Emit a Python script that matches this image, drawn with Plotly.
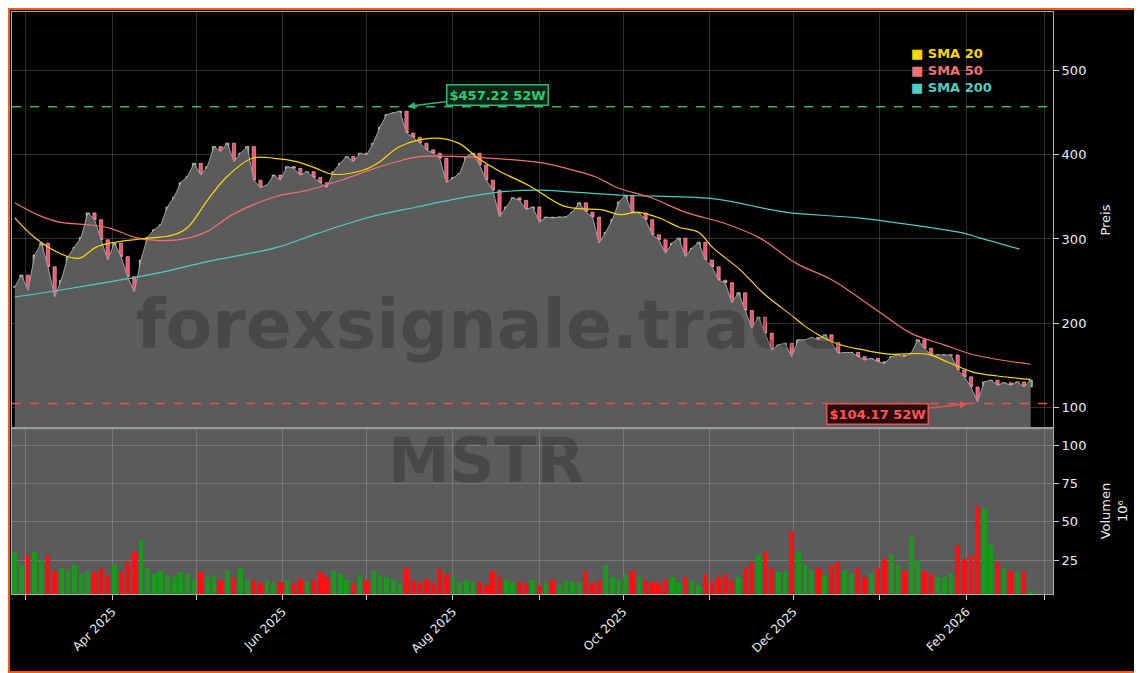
import pandas as pd
import plotly.graph_objects as go
from plotly.subplots import make_subplots

START, END = "2025-02-25", "2026-02-24"
CLOSE = [
    243, 257, 239, 281, 295, 267, 231, 251, 279, 290,
    302, 331, 323, 299, 275, 295, 279, 255, 237, 275,
    302, 311, 317, 338, 350, 367, 374, 390, 376, 386,
    410, 404, 414, 392, 402, 410, 370, 361, 364, 376,
    370, 386, 384, 376, 380, 373, 367, 361, 380, 390,
    398, 392, 402, 400, 414, 433, 448, 450, 452, 426,
    421, 414, 406, 402, 396, 367, 373, 378, 398, 402,
    388, 370, 358, 326, 338, 349, 346, 335, 338, 320,
    326, 325, 326, 326, 332, 343, 332, 326, 295, 308,
    323, 344, 352, 331, 331, 323, 305, 299, 283, 295,
    301, 279, 289, 296, 275, 267, 251, 248, 224, 236,
    215, 194, 207, 188, 168, 174, 176, 160, 180, 180,
    183, 180, 186, 177, 164, 165, 165, 160, 156, 158,
    154, 152, 160, 162, 160, 164, 180, 170, 162, 162,
    162, 162, 144, 136, 124, 106, 130, 132, 126, 129,
    126, 130, 124, 132,
]
VOLUME = [
    30, 22, 28, 30, 25, 28, 18, 20, 18, 22,
    16, 18, 17, 20, 15, 22, 17, 24, 30, 38,
    20, 16, 18, 15, 14, 17, 16, 13, 17, 14,
    15, 12, 18, 14, 20, 12, 12, 10, 12, 10,
    11, 12, 10, 13, 11, 12, 17, 14, 18, 16,
    12, 10, 15, 12, 18, 15, 14, 12, 10, 20,
    12, 11, 13, 10, 20, 16, 14, 10, 12, 10,
    11, 9, 18, 14, 12, 10, 11, 10, 12, 9,
    10, 12, 9, 12, 11, 10, 18, 10, 12, 22,
    14, 12, 15, 18, 14, 12, 11, 10, 13, 14,
    10, 14, 12, 9, 16, 11, 14, 16, 12, 14,
    20, 24, 28, 30, 20, 17, 18, 44, 30, 22,
    18, 20, 15, 22, 24, 18, 16, 20, 14, 16,
    20, 26, 28, 22, 18, 40, 25, 18, 16, 14,
    14, 16, 35, 26, 28, 60, 58, 35, 24, 20,
    18, 17, 18, 5,
]
SMA20_DATES = ["2025-02-25","2025-03-04","2025-03-13","2025-03-20","2025-03-26","2025-03-31","2025-04-11","2025-04-23","2025-04-28","2025-05-05","2025-05-12","2025-05-21","2025-05-29",
               "2025-06-06","2025-06-13","2025-06-19","2025-06-30","2025-07-05","2025-07-13","2025-07-25","2025-08-03","2025-08-10","2025-08-18","2025-08-28",
               "2025-09-09","2025-09-15","2025-09-23","2025-09-30","2025-10-06","2025-10-14","2025-10-21","2025-10-28","2025-11-02","2025-11-12","2025-11-20","2025-11-30",
               "2025-12-07","2025-12-16","2025-12-26","2026-01-04","2026-01-18","2026-01-25","2026-02-03","2026-02-12","2026-02-24"]
SMA20 = [325, 302, 283, 277, 290, 295, 300, 305, 314, 346, 374, 396, 396,
         392, 384, 377, 382, 390, 410, 420, 414, 396, 380, 364,
         340, 336, 335, 329, 332, 325, 314, 308, 290, 263, 236, 210,
         192, 176, 168, 163, 163, 154, 142, 137, 133]
SMA50_DATES = ["2025-02-25","2025-03-05","2025-03-13","2025-03-23","2025-03-31","2025-04-09","2025-04-18","2025-04-28","2025-05-05","2025-05-14","2025-05-29",
               "2025-06-10","2025-06-22","2025-07-04","2025-07-14","2025-07-20","2025-08-03","2025-08-15","2025-09-03","2025-09-13","2025-09-21","2025-09-29",
               "2025-10-11","2025-10-24","2025-11-06","2025-11-19","2025-12-02","2025-12-15","2025-12-31","2026-01-12","2026-01-24","2026-02-04","2026-02-24"]
SMA50 = [343, 329, 320, 317, 313, 302, 298, 301, 309, 329, 350,
         358, 370, 384, 394, 398, 398, 396, 390, 382, 374, 361,
         349, 331, 319, 301, 271, 251, 215, 188, 174, 162, 151]
SMA200_DATES = ["2025-02-25","2025-03-13","2025-03-31","2025-04-18","2025-05-05","2025-05-30","2025-06-13","2025-07-01","2025-07-19","2025-08-06","2025-08-18","2025-09-01",
                "2025-09-12","2025-10-01","2025-11-02","2025-11-28","2025-12-24","2026-01-18","2026-01-31","2026-02-06","2026-02-20"]
SMA200 = [231, 239, 249, 260, 273, 290, 306, 325, 338, 350, 356, 358,
          356, 352, 348, 332, 325, 314, 307, 301, 288]
HIGH_52W, LOW_52W = 457.22, 104.17
HIGH_DATE, LOW_DATE = "2025-07-15", "2026-02-02"
PRICE_TICKS = [100, 200, 300, 400, 500]
VOL_TICKS = [25, 50, 75, 100]

dates = pd.date_range(START, END, periods=len(CLOSE))
opens = [CLOSE[0]] + CLOSE[:-1]
highs = [max(o, c) for o, c in zip(opens, CLOSE)]
lows = [min(o, c) for o, c in zip(opens, CLOSE)]
vcols = ["#1a9a1a" if c >= o else "#ff1010" for o, c in zip(opens, CLOSE)]

fig = make_subplots(rows=2, cols=1, shared_xaxes=True, vertical_spacing=0,
                    row_heights=[0.715, 0.285])
fig.add_trace(go.Scatter(x=dates, y=CLOSE, mode="lines", line=dict(color="#a0a0a0", width=1),
                         fill="tozeroy", fillcolor="#5b5b5b", hoverinfo="skip"), row=1, col=1)
fig.add_trace(go.Candlestick(x=dates, open=opens, high=highs, low=lows, close=CLOSE,
                             increasing=dict(line=dict(color="#d8f0d8", width=0.6), fillcolor="#4cbb4c"),
                             decreasing=dict(line=dict(color="#ffc0cc", width=0.6), fillcolor="#f0506e"),
                             whiskerwidth=0), row=1, col=1)
fig.add_trace(go.Scatter(x=pd.to_datetime(SMA200_DATES), y=SMA200, mode="lines", line=dict(color="#4ecdc4", width=1.2, shape="spline")), row=1, col=1)
fig.add_trace(go.Scatter(x=pd.to_datetime(SMA50_DATES), y=SMA50, mode="lines", line=dict(color="#f07070", width=1.2, shape="spline")), row=1, col=1)
fig.add_trace(go.Scatter(x=pd.to_datetime(SMA20_DATES), y=SMA20, mode="lines", line=dict(color="#ffd700", width=1.2, shape="spline")), row=1, col=1)
fig.add_trace(go.Bar(x=dates, y=VOLUME, marker=dict(color=vcols, line=dict(width=0)), width=1.7*86400000), row=2, col=1)

fig.add_hline(y=HIGH_52W, line=dict(color="#2eb872", width=1.5, dash="dash"), row=1, col=1)
fig.add_hline(y=LOW_52W, line=dict(color="#e05555", width=1.5, dash="dash"), row=1, col=1)

fig.add_shape(type="rect", xref="paper", yref="y2 domain", x0=0, x1=1, y0=0, y1=1,
              fillcolor="#5b5b5b", line=dict(width=0), layer="below")
fig.add_shape(type="line", xref="paper", yref="paper", x0=0, x1=1, y0=0.285, y1=0.285,
              line=dict(color="#999999", width=2))
# orange frame along the figure edges
fig.add_shape(type="rect", xref="paper", yref="paper", x0=-0.0029, x1=1.0845, y0=-0.1340, y1=1.0051,
              line=dict(color="#ff5a00", width=2), fillcolor="rgba(0,0,0,0)")

fig.add_annotation(x=pd.Timestamp(HIGH_DATE), y=HIGH_52W, ax=pd.Timestamp("2025-08-17"), ay=471,
                   xref="x", yref="y", axref="x", ayref="y", text="<b>$457.22 52W</b>",
                   font=dict(color="#2ecc71", size=13), bgcolor="#0b2416", bordercolor="#2eb872",
                   borderwidth=1.5, borderpad=2, showarrow=True, arrowhead=2, arrowsize=1,
                   arrowwidth=1.5, arrowcolor="#2eb872", standoff=2)
fig.add_annotation(x=pd.Timestamp(LOW_DATE), y=LOW_52W, ax=pd.Timestamp("2025-12-31"), ay=92,
                   xref="x", yref="y", axref="x", ayref="y", text="<b>$104.17 52W</b>",
                   font=dict(color="#ff5555", size=13), bgcolor="#2a0b0b", bordercolor="#e05555",
                   borderwidth=1.5, borderpad=2, showarrow=True, arrowhead=2, arrowsize=1,
                   arrowwidth=1.5, arrowcolor="#e05555", standoff=2)

for i, (txt, col) in enumerate([("SMA 20", "#ffd700"), ("SMA 50", "#f07070"), ("SMA 200", "#4ecdc4")]):
    fig.add_annotation(xref="paper", yref="paper", x=0.862, y=0.945 - i * 0.029, xanchor="left",
                       text=f"<b>■ {txt}</b>", showarrow=False, font=dict(color=col, size=13))

fig.add_annotation(xref="paper", yref="paper", x=0.46, y=0.463, text="<b>forexsignale.trade</b>",
                   showarrow=False, font=dict(size=68, color="rgba(0,0,0,0.2)"))
fig.add_annotation(xref="paper", yref="paper", x=0.455, y=0.163, text="<b>MSTR</b>",
                   showarrow=False, font=dict(size=62, color="rgba(0,0,0,0.2)"))

months = pd.date_range("2025-03-01", "2026-03-01", freq="MS")
ticktext = [m.strftime("%b %Y") if m.month % 2 == 0 else "" for m in months]
xcommon = dict(range=["2025-02-24", "2026-03-04"], showgrid=True, gridcolor="rgba(255,255,255,0.18)",
               tickvals=months, ticktext=ticktext, ticks="outside", tickcolor="#cccccc",
               linecolor="#aaaaaa", mirror=True, showline=True, rangeslider=dict(visible=False))
fig.update_xaxes(**xcommon)
fig.update_xaxes(tickangle=-45, tickfont=dict(color="#eeeeee", size=12), row=2, col=1)
fig.update_xaxes(showticklabels=False, ticks="", row=1, col=1)
fig.update_yaxes(side="right", range=[75, 570], tickvals=PRICE_TICKS, ticks="outside",
                 tickcolor="#cccccc", tickfont=dict(color="#eeeeee", size=13),
                 gridcolor="rgba(255,255,255,0.18)", linecolor="#aaaaaa", mirror=True, showline=True,
                 title=dict(text="Preis", font=dict(color="#eeeeee", size=13)), row=1, col=1)
fig.update_yaxes(side="right", range=[3, 111], tickvals=VOL_TICKS, ticks="outside",
                 tickcolor="#cccccc", tickfont=dict(color="#eeeeee", size=13),
                 gridcolor="rgba(255,255,255,0.18)", linecolor="#aaaaaa", mirror=True, showline=True,
                 title=dict(text="Volumen<br>10⁶", font=dict(color="#eeeeee", size=13)), row=2, col=1)

fig.update_layout(width=1134, height=665, margin=dict(l=4, r=89, t=4, b=79),
                  paper_bgcolor="#000000", plot_bgcolor="#000000", showlegend=False,
                  font=dict(family="DejaVu Sans", color="#eeeeee"), bargap=0)
fig.write_html("out.html")
